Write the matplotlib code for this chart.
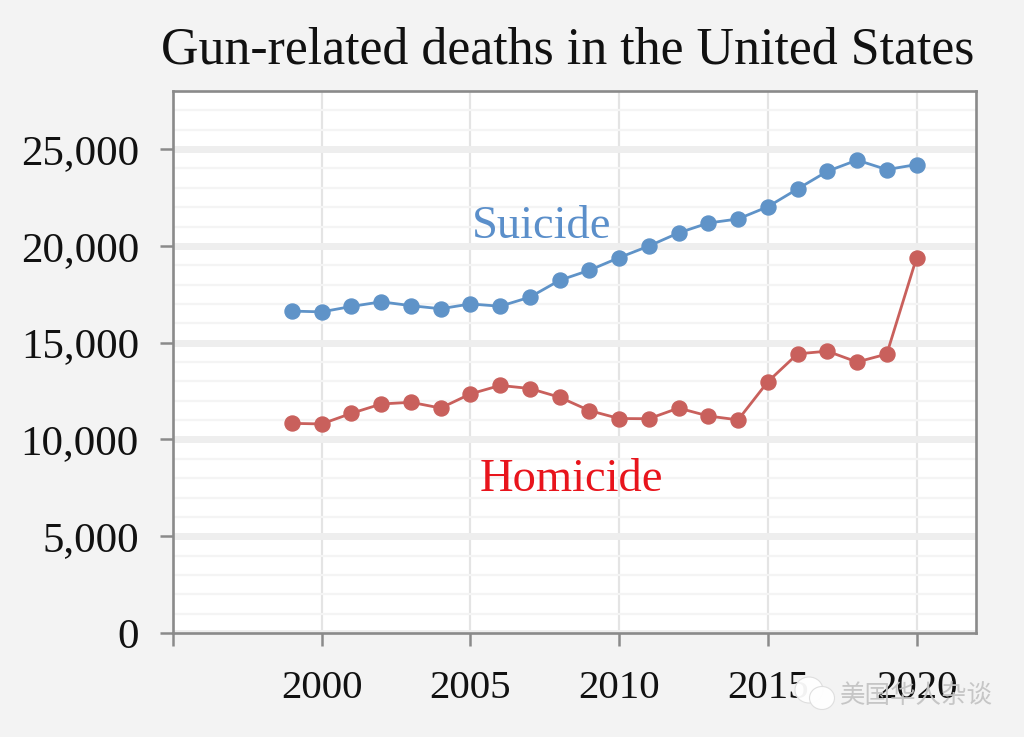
import matplotlib
matplotlib.use("Agg")
import matplotlib.pyplot as plt
from matplotlib.patches import Ellipse

years = list(range(1999, 2021))
suicide = [16630, 16590, 16870, 17110, 16910, 16750, 17000, 16880, 17350, 18220, 18740,
           19390, 19990, 20670, 21180, 21390, 22020, 22940, 23850, 24430, 23940, 24200]
homicide = [10830, 10800, 11350, 11830, 11920, 11620, 12350, 12790, 12630, 12180, 11490,
            11080, 11070, 11620, 11210, 11010, 12980, 14420, 14560, 14000, 14410, 19380]
x_ticks = [1995, 2000, 2005, 2010, 2015, 2020]
x_labels = ["", "2000", "2005", "2010", "2015", "2020"]
y_ticks = [0, 5000, 10000, 15000, 20000, 25000]
y_labels = ["0", "5,000", "10,000", "15,000", "20,000", "25,000"]
y_minor = [v for v in range(1000, 28000, 1000) if v % 5000]

plt.rcParams["font.family"] = ["Liberation Serif", "DejaVu Serif"]
fig = plt.figure(figsize=(10.24, 7.37), dpi=100, facecolor="#f3f3f3")
W, H = 1024, 737
ax = fig.add_axes([173 / W, 1 - 633 / H, (976 - 173) / W, (633 - 91) / H])
ax.set_xlim(1995, 2022)
ax.set_ylim(0, 28000)
ax.set_facecolor("white")

ax.set_xticks(x_ticks, x_labels)
ax.set_yticks(y_ticks, y_labels)
ax.set_yticks(y_minor, minor=True)
ax.tick_params(axis="x", which="major", length=9, width=1.8, color="#8a8a8a", labelsize=29.5, labelcolor="#111111", pad=18)
ax.tick_params(axis="y", which="major", length=9.5, width=1.8, color="#8a8a8a", labelsize=31, labelcolor="#111111", pad=15)
ax.tick_params(axis="y", which="minor", length=0)
ax.grid(True, axis="y", which="major", color="#eeeeee", lw=5)
ax.grid(True, axis="y", which="minor", color="#f4f4f4", lw=1.6)
ax.grid(True, axis="x", which="major", color="#e4e4e4", lw=1.6)
ax.set_axisbelow(True)
for s in ax.spines.values():
    s.set_color("#8a8a8a")
    s.set_linewidth(1.9)

ax.plot(years, suicide, color="#5f93c8", lw=2, marker="o", ms=10.8, clip_on=False)
ax.plot(years, homicide, color="#c9605c", lw=2, marker="o", ms=10.8, clip_on=False)

ax.text(2007.4, 21000, "Suicide", color="#5b8fca", fontsize=33.5, ha="center", va="center")
ax.text(2008.4, 7900, "Homicide", color="#e8141c", fontsize=33.5, ha="center", va="center")
fig.text(567.5 / W, 1 - 50 / H, "Gun-related deaths in the United States", fontsize=37.4,
         color="#111111", ha="center", va="center")

# Watermark
for cx, cy, rw, rh in [(809, 690, 28, 26), (822, 698, 25, 23)]:
    fig.add_artist(Ellipse((cx / W, 1 - cy / H), rw / W, rh / H, transform=fig.transFigure,
                           fc="white", ec="#dddddd", lw=0.8, alpha=0.95, zorder=5))
fig.text(840 / W, 1 - 696 / H, "美国华人杂谈", fontsize=18.4, color="#c4c4c4", alpha=0.95,
         family=["Noto Sans CJK SC", "DejaVu Sans"], ha="left", va="center", zorder=6)

fig.savefig("out.png", dpi=100, facecolor=fig.get_facecolor())
